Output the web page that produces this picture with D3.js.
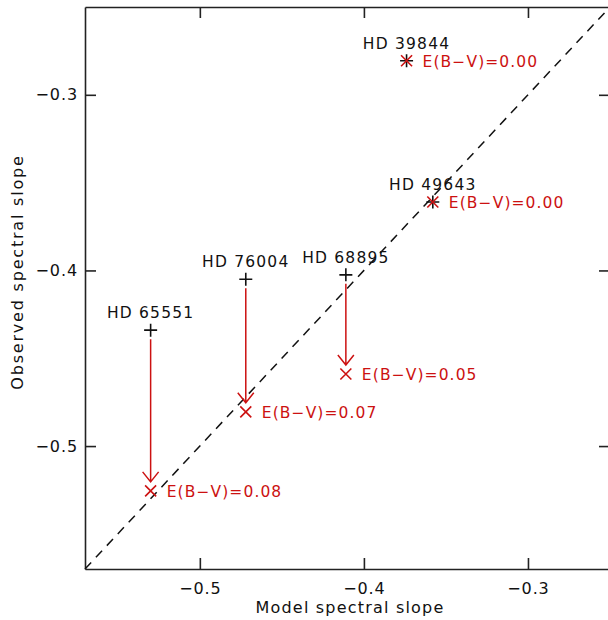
<!DOCTYPE html>
<html>
<head>
<meta charset="utf-8">
<script src="https://cdn.jsdelivr.net/npm/d3@7"></script>
<style>
  body { margin: 0; background: #fff; }
  text { font-family: "DejaVu Sans", sans-serif; }
</style>
</head>
<body>
<div id="chart"></div>
<script>
// stars and their slopes
var stars = ["HD 65551", "HD 76004", "HD 68895", "HD 49643", "HD 39844"];
var modelSlope = [-0.530, -0.472, -0.411, -0.358, -0.374];
var observedSlope = [-0.434, -0.405, -0.4025, -0.361, -0.2806];
var correctedSlope = [-0.5255, -0.4805, -0.459, -0.361, -0.2806];
var ebv = ["0.08", "0.07", "0.05", "0.00", "0.00"];

var xTicks = [-0.5, -0.4, -0.3];
var yTicks = [-0.3, -0.4, -0.5];

var margin = { left: 85, right: -2, top: 7, bottom: 51 };
var width = 608 - margin.left - margin.right,
    height = 620 - margin.top - margin.bottom;

var red = "#cc1111";

var svg = d3.select("#chart").append("svg")
    .attr("width", 608)
    .attr("height", 620);

var g = svg.append("g")
    .attr("transform", "translate(" + margin.left + "," + margin.top + ")");

var xScale = d3.scaleLinear().domain([-0.57, -0.25]).range([0, width]);
var yScale = d3.scaleLinear().domain([-0.57, -0.25]).range([height, 0]);

// axes (all four sides, ticks inward)
var axisStyle = function (sel) {
    sel.select(".domain").attr("stroke", "#222").attr("stroke-width", 1.6);
    sel.selectAll(".tick line").attr("stroke", "#222").attr("stroke-width", 1.6);
    sel.selectAll("text").attr("font-size", 16).attr("fill", "#111")
        .attr("letter-spacing", 0.9)
        .style("font-family", "DejaVu Sans, sans-serif");
};
var fmt = function (d) { return d3.format(".1f")(d).replace("-", "\u2212"); };

g.append("g").attr("transform", "translate(0," + height + ")")
    .call(d3.axisBottom(xScale).tickValues(xTicks).tickSizeInner(-11).tickSizeOuter(0)
        .tickPadding(14).tickFormat(fmt))
    .call(axisStyle);
g.append("g")
    .call(d3.axisTop(xScale).tickValues(xTicks).tickSizeInner(-11).tickSizeOuter(0)
        .tickFormat(""))
    .call(axisStyle);
g.append("g")
    .call(d3.axisLeft(yScale).tickValues(yTicks).tickSizeInner(-11).tickSizeOuter(0)
        .tickPadding(7).tickFormat(fmt))
    .call(axisStyle);
g.append("g").attr("transform", "translate(" + width + ",0)")
    .call(d3.axisRight(yScale).tickValues(yTicks).tickSizeInner(-11).tickSizeOuter(0)
        .tickFormat(""))
    .call(axisStyle);

// axis titles
svg.append("text")
    .attr("x", 350)
    .attr("y", 613)
    .attr("text-anchor", "middle")
    .attr("font-size", 16)
    .attr("letter-spacing", 1.2)
    .attr("fill", "#111")
    .text("Model spectral slope");
svg.append("text")
    .attr("transform", "translate(23,272) rotate(-90)")
    .attr("text-anchor", "middle")
    .attr("font-size", 16)
    .attr("letter-spacing", 1.8)
    .attr("fill", "#111")
    .text("Observed spectral slope");

// one-to-one line
g.append("line")
    .attr("x1", xScale(-0.57)).attr("y1", yScale(-0.57))
    .attr("x2", xScale(-0.25)).attr("y2", yScale(-0.25))
    .attr("stroke", "#111").attr("stroke-width", 1.5)
    .attr("stroke-dasharray", "9,7");

var idx = d3.range(stars.length);

// arrows from observed to corrected
idx.forEach(function (i) {
    if (observedSlope[i] === correctedSlope[i]) return;
    var x = xScale(modelSlope[i]),
        y1 = yScale(observedSlope[i]) + 9,
        y2 = yScale(correctedSlope[i]) - 9;
    g.append("path")
        .attr("d", "M" + x + "," + y1 + "V" + y2 + "M" + (x - 8) + "," + (y2 - 10) +
            "L" + x + "," + y2 + "L" + (x + 8) + "," + (y2 - 10))
        .attr("fill", "none").attr("stroke", red).attr("stroke-width", 1.5);
});

// observed: black plus
idx.forEach(function (i) {
    var x = xScale(modelSlope[i]), y = yScale(observedSlope[i]), s = 6.5;
    g.append("path")
        .attr("d", "M" + (x - s) + "," + y + "H" + (x + s) + "M" + x + "," + (y - s) + "V" + (y + s))
        .attr("stroke", "#111").attr("stroke-width", 1.6);
});

// corrected: red cross
idx.forEach(function (i) {
    var x = xScale(modelSlope[i]), y = yScale(correctedSlope[i]), s = 5.5;
    g.append("path")
        .attr("d", "M" + (x - s) + "," + (y - s) + "L" + (x + s) + "," + (y + s) +
            "M" + (x - s) + "," + (y + s) + "L" + (x + s) + "," + (y - s))
        .attr("stroke", red).attr("stroke-width", 1.6);
});

// star names
g.selectAll(".name").data(idx).enter().append("text")
    .attr("class", "name")
    .attr("x", function (i) { return xScale(modelSlope[i]); })
    .attr("y", function (i) { return yScale(observedSlope[i]) - 12; })
    .attr("text-anchor", "middle")
    .attr("font-size", 15.5)
    .attr("letter-spacing", 1.2)
    .attr("fill", "#111")
    .text(function (i) { return stars[i]; });

// reddening labels
g.selectAll(".ebv").data(idx).enter().append("text")
    .attr("class", "ebv")
    .attr("x", function (i) { return xScale(modelSlope[i]) + 16; })
    .attr("y", function (i) { return yScale(correctedSlope[i]) + 6; })
    .attr("font-size", 15.5)
    .attr("letter-spacing", 1.1)
    .attr("fill", red)
    .text(function (i) { return "E(B\u2212V)=" + ebv[i]; });
</script>
</body>
</html>
